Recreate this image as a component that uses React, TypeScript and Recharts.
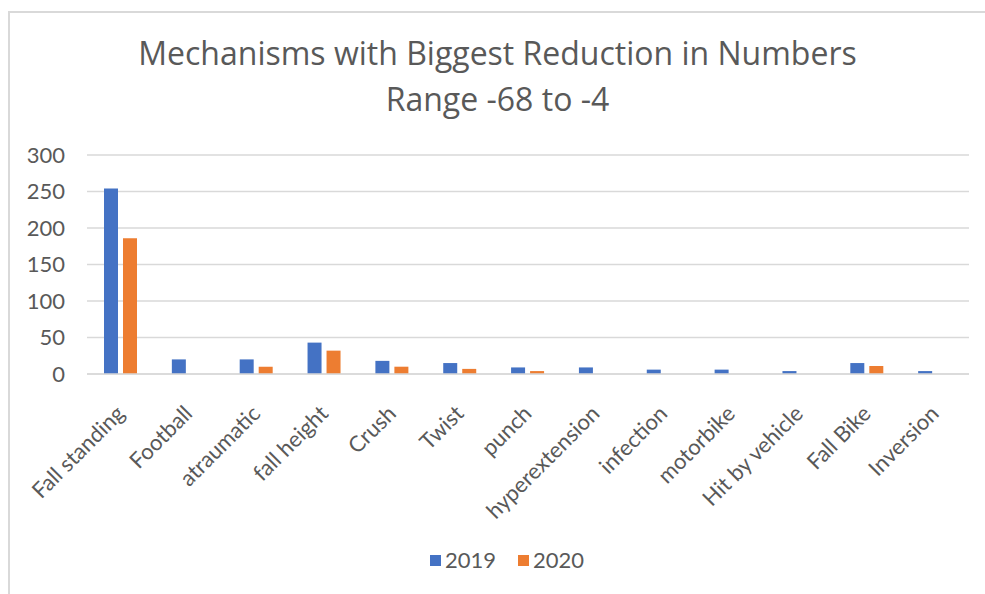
import React from "react";
import { BarChart, Bar, XAxis, YAxis, CartesianGrid, Legend } from "recharts";

// Mechanism categories and yearly counts
const mechanisms = [
  "Fall standing",
  "Football",
  "atraumatic",
  "fall height",
  "Crush",
  "Twist",
  "punch",
  "hyperextension",
  "infection",
  "motorbike",
  "Hit by vehicle",
  "Fall Bike",
  "Inversion",
];
const counts2019 = [254, 20, 20, 43, 18, 15, 9, 9, 6, 6, 4, 15, 4];
const counts2020 = [186, 0, 10, 32, 10, 7, 4, 0, 0, 0, 0, 11, 0];
const yTicks = [0, 50, 100, 150, 200, 250, 300];

const titleLines = ["Mechanisms with Biggest Reduction in Numbers", "Range -68 to -4"];

const data = mechanisms.map((name, i) => ({
  name,
  y2019: counts2019[i],
  y2020: counts2020[i],
}));

const FONT = "Lato, 'Noto Sans', sans-serif";
const TITLE_FONT = "'Open Sans', Lato, sans-serif";
const TEXT = "#595959";

const CategoryTick = (props: any) => {
  const { x, y, payload } = props;
  return (
    <g transform={`translate(${x - 1},${y + 27}) rotate(-45)`}>
      <text
        x={0}
        y={0}
        textAnchor="end"
        dominantBaseline="central"
        fill={TEXT}
        fontSize={22}
        fontFamily={FONT}
      >
        {payload.value}
      </text>
    </g>
  );
};

const LegendContent = (props: any) => {
  const { payload } = props;
  const items = payload || [];
  return (
    <div style={{ display: "flex", justifyContent: "center", alignItems: "center", paddingLeft: 35 }}>
      {items.map((entry: any, i: number) => (
        <div
          key={entry.value}
          style={{ display: "flex", alignItems: "center", marginRight: i < items.length - 1 ? 22 : 0 }}
        >
          <span
            style={{
              display: "inline-block",
              width: 11,
              height: 11,
              background: entry.color,
              marginRight: 4,
            }}
          />
          <span style={{ color: TEXT, fontSize: 22, fontFamily: FONT, lineHeight: "24px" }}>
            {entry.value}
          </span>
        </div>
      ))}
    </div>
  );
};

export default function App() {
  return (
    <div
      style={{
        position: "fixed",
        left: 8,
        top: 11,
        width: 977,
        height: 583,
        borderLeft: "2px solid #d9d9d9",
        borderTop: "2px solid #d9d9d9",
        background: "#fff",
        boxSizing: "border-box",
        fontFamily: FONT,
      }}
    >
      <div
        style={{
          position: "absolute",
          left: 0,
          top: 17,
          width: 975,
          textAlign: "center",
          color: TEXT,
          fontSize: 32,
          fontFamily: TITLE_FONT,
          lineHeight: "46px",
        }}
      >
        {titleLines.map((t) => (
          <div key={t}>{t}</div>
        ))}
      </div>
      <BarChart
        width={975}
        height={581}
        data={data}
        margin={{ top: 142, right: 16, left: 0, bottom: 16 }}
        barSize={14}
        barGap={5}
      >
        <CartesianGrid vertical={false} stroke="#d9d9d9" strokeWidth={1.5} />
        <XAxis
          dataKey="name"
          interval={0}
          height={174}
          tick={<CategoryTick />}
          tickLine={false}
          axisLine={{ stroke: "#d9d9d9", strokeWidth: 1.5 }}
        />
        <YAxis
          width={77}
          domain={[0, 300]}
          ticks={yTicks}
          axisLine={false}
          tickLine={false}
          tickSize={0}
          tickMargin={22}
          tick={{ fill: TEXT, fontSize: 22, fontFamily: FONT }}
        />
        <Legend verticalAlign="bottom" align="center" height={30} content={<LegendContent />} />
        <Bar dataKey="y2019" name="2019" fill="#4472C4" isAnimationActive={false} />
        <Bar dataKey="y2020" name="2020" fill="#ED7D31" isAnimationActive={false} />
      </BarChart>
    </div>
  );
}
